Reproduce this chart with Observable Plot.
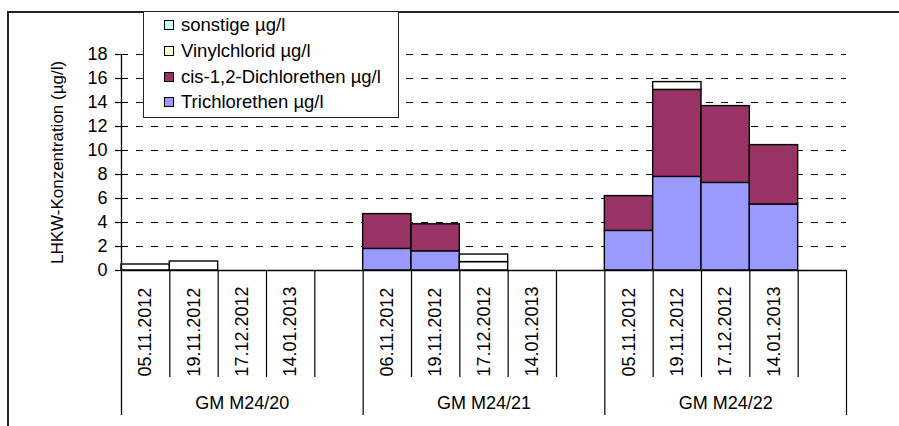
<!DOCTYPE html>
<html>
<head>
<meta charset="utf-8">
<script src="https://cdn.jsdelivr.net/npm/d3@7"></script>
<script src="https://cdn.jsdelivr.net/npm/@observablehq/plot@0.6"></script>
<style>
  body { margin: 0; background: #fff; }
  #wrap { position: relative; width: 899px; height: 426px; overflow: hidden; font-family: "Liberation Sans", Arial, sans-serif; }
  #frame { position: absolute; left: 7px; top: 11px; width: 1000px; height: 1000px; border-left: 2px solid #222; border-top: 2px solid #222; box-sizing: border-box; pointer-events: none; }
  #legend { position: absolute; left: 143px; top: 11px; width: 256px; height: 107px; border: 1.5px solid #222; background: #fff; box-sizing: border-box; }
  .item { position: absolute; left: 20px; height: 22px; display: flex; align-items: center; font-size: 18.5px; color: #000; white-space: nowrap; }
  .sw { width: 8px; height: 8px; border: 1.3px solid #000; margin-right: 7px; }
</style>
</head>
<body>
<div id="wrap"><div id="frame"></div></div>
<script>
// Sampling points (GM M24/20 … /22) and dates per point
const groups = ["GM M24/20", "GM M24/21", "GM M24/22"];
const dates = [
  ["05.11.2012", "19.11.2012", "17.12.2012", "14.01.2013"],
  ["06.11.2012", "19.11.2012", "17.12.2012", "14.01.2013"],
  ["05.11.2012", "19.11.2012", "17.12.2012", "14.01.2013"]
];

// Stack order, bottom to top
const series = ["Trichlorethen µg/l", "cis-1,2-Dichlorethen µg/l", "Vinylchlorid µg/l", "sonstige µg/l"];

// Concentrations in µg/l, one entry per date (4 dates × 3 points)
const trichlorethen = [0, 0, 0, 0,   1.8, 1.6, 0, 0,    3.3, 7.8, 7.3, 5.5];
const dichlorethen  = [0, 0, 0, 0,   2.9, 2.25, 0, 0,   2.9, 7.25, 6.4, 4.95];
const vinylchlorid  = [0.5, 0.75, 0, 0, 0, 0, 0.7, 0,   0, 0.65, 0, 0];
const sonstige      = [0, 0, 0, 0,   0, 0, 0.63, 0,     0, 0, 0, 0];

const yTicks = [0, 2, 4, 6, 8, 10, 12, 14, 16, 18];
const yTitle = "LHKW-Konzentration (µg/l)";

const legendColors = ["#9999FF", "#993366", "#FFFFCC", "#CCFFFF"];
const barColors = ["#9999FF", "#993366", "#FFFFFF", "#FFFFFF"];

// Each point gets 4 date slots plus one empty slot
const slotsPerGroup = 5;
const values = [trichlorethen, dichlorethen, vinylchlorid, sonstige];

const rows = [];
groups.forEach((g, gi) => {
  dates[gi].forEach((d, di) => {
    const k = gi * 4 + di;
    const slot = gi * slotsPerGroup + di;
    series.forEach((s, si) => {
      const v = values[si][k];
      if (v > 0) rows.push({slot, slotEnd: slot + 1, series: s, value: v});
    });
  });
});

const dateLabels = [];
dates.forEach((ds, gi) => ds.forEach((d, di) => dateLabels.push({pos: gi * slotsPerGroup + di + 0.5, label: d})));
const groupLabels = groups.map((g, gi) => ({pos: gi * slotsPerGroup + slotsPerGroup / 2, label: g}));

// Slot boundaries inside each point and boundaries between points
const innerEdges = [];
const groupEdges = [];
for (let i = 1; i < groups.length * slotsPerGroup; i++) {
  if (i % slotsPerGroup === 0) groupEdges.push(i); else innerEdges.push(i);
}
groupEdges.push(groups.length * slotsPerGroup);

const chart = Plot.plot({
  width: 899,
  height: 426,
  marginLeft: 121,
  marginRight: 53,
  marginTop: 54,
  marginBottom: 156,
  style: {fontFamily: "'Liberation Sans', Arial, sans-serif", color: "#000", background: "transparent", overflow: "visible"},
  x: {type: "linear", domain: [0, groups.length * slotsPerGroup], axis: null},
  y: {domain: [0, 18], axis: null},
  color: {domain: series, range: barColors},
  marks: [
    Plot.ruleY(yTicks.filter(t => t > 0), {stroke: "#000", strokeWidth: 1.2, strokeDasharray: "7,8"}),
    Plot.rectY(rows, {x1: "slot", x2: "slotEnd", y: "value", fill: "series", stroke: "#000", strokeWidth: 1.4}),
    Plot.ruleY([0], {stroke: "#000", strokeWidth: 1.3}),
    Plot.ruleX([0], {stroke: "#000", strokeWidth: 1.3, insetBottom: -145}),
    Plot.ruleX(innerEdges, {stroke: "#000", strokeWidth: 1.2, insetTop: 216, insetBottom: -107}),
    Plot.ruleX(groupEdges, {stroke: "#000", strokeWidth: 1.2, insetTop: 216, insetBottom: -145}),
    Plot.axisY({ticks: yTicks, tickSize: 6, tickPadding: 8, label: null, fontSize: 18, stroke: "#000", strokeWidth: 1.2}),
    Plot.text([yTitle], {text: d => d, frameAnchor: "left", dx: -64, rotate: -90, textAnchor: "middle", lineAnchor: "middle", fontSize: 17, fill: "#000"}),
    Plot.text(dateLabels, {x: "pos", text: "label", frameAnchor: "bottom", dy: 106, rotate: -90, textAnchor: "start", lineAnchor: "middle", fontSize: 18, fill: "#000"}),
    Plot.text(groupLabels, {x: "pos", text: "label", frameAnchor: "bottom", dy: 133, textAnchor: "middle", lineAnchor: "middle", fontSize: 18, fill: "#000"})
  ]
});

const wrap = document.getElementById("wrap");
chart.style.position = "absolute";
chart.style.left = "0";
chart.style.top = "0";
wrap.insertBefore(chart, wrap.firstChild);

// Legend box, top entry is the last stacked series
const legend = document.createElement("div");
legend.id = "legend";
const rowCenters = [13, 39, 65, 90];
series.slice().reverse().forEach((s, i) => {
  const idx = series.indexOf(s);
  const item = document.createElement("div");
  item.className = "item";
  item.style.top = (rowCenters[i] - 11) + "px";
  const sw = document.createElement("span");
  sw.className = "sw";
  sw.style.background = legendColors[idx];
  item.appendChild(sw);
  item.appendChild(document.createTextNode(s));
  legend.appendChild(item);
});
wrap.appendChild(legend);
</script>
</body>
</html>
